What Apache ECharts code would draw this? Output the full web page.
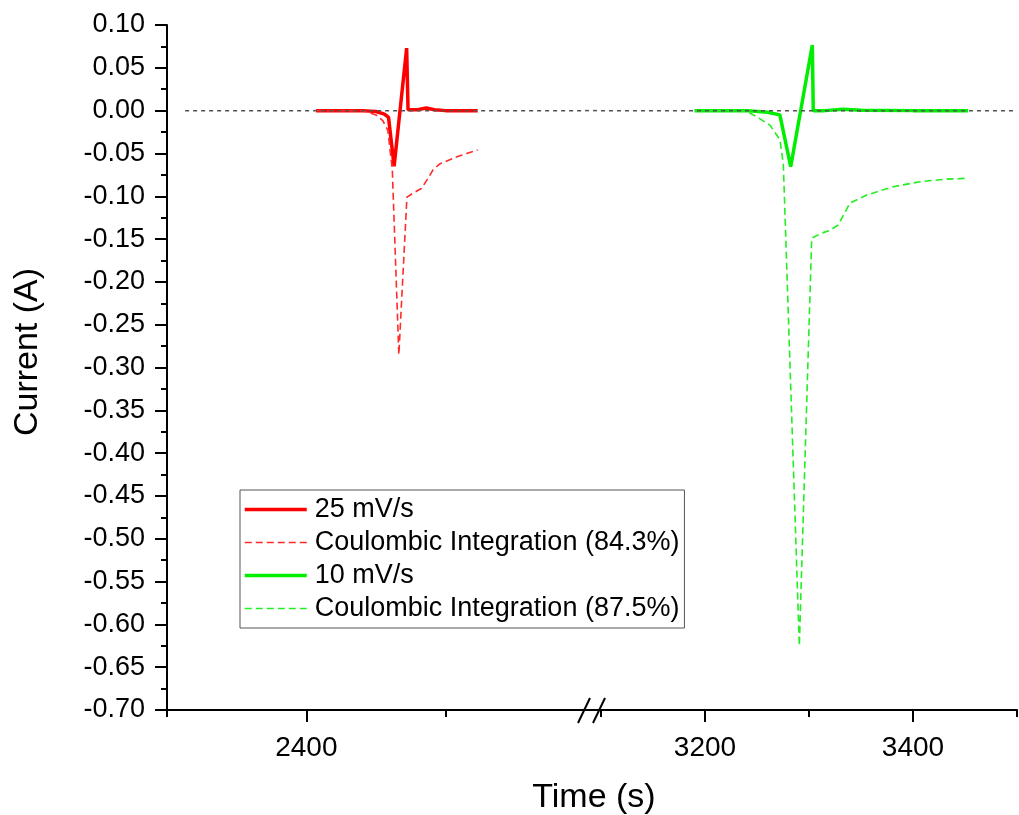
<!DOCTYPE html>
<html>
<head>
<meta charset="utf-8">
<script src="https://cdn.jsdelivr.net/npm/echarts@6/dist/echarts.min.js"></script>
<style>
  html, body { margin: 0; padding: 0; background: #fff; }
  #chart { width: 1019px; height: 815px; }
</style>
</head>
<body>
<div id="chart"></div>
<script>
// 25 mV/s scan: measured current and its coulombic integration
const redTime = [2407, 2420, 2440, 2450, 2456, 2459, 2463, 2472, 2473, 2480, 2486, 2492, 2500, 2523];
const redCurrent = [0, 0, 0, -0.001, -0.004, -0.008, -0.065, 0.073, 0.001, 0.001, 0.003, 0.001, 0, 0];
const redIntTime = [2407, 2440, 2450, 2455, 2458.5, 2461.7, 2466.4, 2472.2, 2476, 2482.5, 2487, 2491, 2496, 2508, 2515, 2523];
const redIntCurrent = [0, 0, -0.005, -0.012, -0.023, -0.069, -0.285, -0.101, -0.097, -0.091, -0.08, -0.069, -0.062, -0.054, -0.05, -0.046];

// 10 mV/s scan
const greenTime = [3190, 3220, 3240, 3260, 3272, 3282.4, 3303.2, 3304.1, 3315, 3333, 3350, 3400, 3453];
const greenCurrent = [0, 0, 0, -0.002, -0.005, -0.0655, 0.0766, 0, 0, 0.0015, 0.0005, 0, 0];
const greenIntTime = [3190, 3230, 3240, 3249.7, 3262.5, 3272, 3275.3, 3290.7, 3302.6, 3312.2, 3320, 3328, 3339.4, 3355.5, 3381, 3406.7, 3432.4, 3453];
const greenIntCurrent = [0, 0, -0.001, -0.007, -0.017, -0.034, -0.062, -0.625, -0.149, -0.143, -0.14, -0.1336, -0.108, -0.0986, -0.0889, -0.083, -0.08, -0.079];

const seriesNames = ['25 mV/s', 'Coulombic Integration (84.3%)', '10 mV/s', 'Coulombic Integration (87.5%)'];

// broken time axis: two segments
const leftRange = [2300, 2600];
const rightRange = [3100, 3500];
const leftMajorTicks = [2400];
const leftMinorTicks = [2300, 2500];
const rightMajorTicks = [3200, 3400];
const rightMinorTicks = [3100, 3300, 3500];
const currentRange = [-0.70, 0.10];
const zeroLineStart = 2313;

const FONT = '"Liberation Sans", Arial, sans-serif';
const pairs = (xs, ys) => xs.map((x, i) => [x, ys[i]]);

const SOLID_W = 3.5;
const DASH_W = 1.6;
const DASH = [7, 4];

function majorAxis(grid, range, ticks) {
  return {
    type: 'value', gridIndex: grid, position: 'bottom',
    min: range[0], max: range[1],
    axisLine: { show: true, onZero: false, lineStyle: { color: '#000', width: 2 } },
    axisTick: { show: true, inside: false, length: 12, customValues: ticks, lineStyle: { color: '#000', width: 2 } },
    axisLabel: { show: true, customValues: ticks, margin: 24, color: '#000', fontSize: 28, fontFamily: FONT, formatter: v => String(v) },
    splitLine: { show: false }
  };
}
function minorAxis(grid, range, ticks) {
  return {
    type: 'value', gridIndex: grid, position: 'bottom', offset: 0,
    min: range[0], max: range[1],
    axisLine: { show: false, onZero: false },
    axisTick: { show: true, inside: false, length: 7, customValues: ticks, lineStyle: { color: '#000', width: 2 } },
    axisLabel: { show: false },
    splitLine: { show: false }
  };
}

// dashed zero-current reference line in each segment
function zeroSeries(xIdx, from, to) {
  return {
    type: 'line', xAxisIndex: xIdx, yAxisIndex: xIdx, z: 5,
    data: [[from, 0], [to, 0]], symbol: 'none', showSymbol: false, silent: true,
    lineStyle: { color: '#555', width: 1.5, type: [4, 4] }
  };
}

const legendColors = ['#ff0000', '#ff2a2a', '#00ee00', '#22ee22'];
const legendSolid = [true, false, true, false];

const chart = echarts.init(document.getElementById('chart'), null, { renderer: 'canvas' });
chart.setOption({
  animation: false,
  backgroundColor: '#fff',
  grid: [
    { left: 167, top: 25, width: 418, height: 685 },
    { left: 601, top: 25, width: 416, height: 685 }
  ],
  xAxis: [
    majorAxis(0, leftRange, leftMajorTicks),
    majorAxis(1, rightRange, rightMajorTicks),
    minorAxis(0, leftRange, leftMinorTicks),
    minorAxis(1, rightRange, rightMinorTicks)
  ],
  yAxis: [
    {
      type: 'value', gridIndex: 0,
      min: currentRange[0], max: currentRange[1], interval: 0.05,
      axisLine: { show: true, onZero: false, lineStyle: { color: '#000', width: 2 } },
      axisTick: { show: true, inside: false, length: 12, lineStyle: { color: '#000', width: 2 } },
      minorTick: { show: true, splitNumber: 2, length: 6, lineStyle: { color: '#000', width: 2 } },
      axisLabel: { margin: 22, color: '#000', fontSize: 27, fontFamily: FONT, formatter: v => v.toFixed(2) },
      splitLine: { show: false }
    },
    {
      type: 'value', gridIndex: 1, show: false,
      min: currentRange[0], max: currentRange[1], interval: 0.05,
      splitLine: { show: false }
    }
  ],
  legend: {
    orient: 'vertical',
    left: 240, top: 490,
    padding: [6, 5, 6, 3],
    backgroundColor: '#fff',
    borderColor: '#555', borderWidth: 1,
    itemWidth: 62, itemHeight: 14, itemGap: 6,
    itemStyle: { opacity: 0 },
    textStyle: { color: '#000', fontSize: 27, fontFamily: FONT, lineHeight: 27, padding: [0, 0, 0, 3] },
    data: seriesNames.map((name, i) => ({
      name,
      lineStyle: legendSolid[i]
        ? { color: legendColors[i], width: SOLID_W, type: 'solid' }
        : { color: legendColors[i], width: DASH_W, type: DASH }
    }))
  },
  series: [
    {
      name: seriesNames[0], type: 'line', xAxisIndex: 0, yAxisIndex: 0,
      data: pairs(redTime, redCurrent), symbol: 'none', showSymbol: false,
      lineStyle: { color: legendColors[0], width: SOLID_W }, itemStyle: { color: legendColors[0] }
    },
    {
      name: seriesNames[1], type: 'line', xAxisIndex: 0, yAxisIndex: 0,
      data: pairs(redIntTime, redIntCurrent), symbol: 'none', showSymbol: false,
      lineStyle: { color: legendColors[1], width: DASH_W, type: DASH }, itemStyle: { color: legendColors[1] }
    },
    {
      name: seriesNames[2], type: 'line', xAxisIndex: 1, yAxisIndex: 1,
      data: pairs(greenTime, greenCurrent), symbol: 'none', showSymbol: false,
      lineStyle: { color: legendColors[2], width: SOLID_W }, itemStyle: { color: legendColors[2] }
    },
    {
      name: seriesNames[3], type: 'line', xAxisIndex: 1, yAxisIndex: 1,
      data: pairs(greenIntTime, greenIntCurrent), symbol: 'none', showSymbol: false,
      lineStyle: { color: legendColors[3], width: DASH_W, type: DASH }, itemStyle: { color: legendColors[3] }
    },
    zeroSeries(0, zeroLineStart, leftRange[1]),
    zeroSeries(1, rightRange[0], rightRange[1])
  ],
  graphic: [
    // axis continuation and break marks between the two time segments
    { type: 'line', shape: { x1: 585, y1: 710, x2: 601, y2: 710 }, style: { stroke: '#000', lineWidth: 2 }, z: 20 },
    { type: 'line', shape: { x1: 578, y1: 723, x2: 590, y2: 698 }, style: { stroke: '#000', lineWidth: 2 }, z: 20 },
    { type: 'line', shape: { x1: 593, y1: 723, x2: 605, y2: 698 }, style: { stroke: '#000', lineWidth: 2 }, z: 20 },
    { type: 'line', shape: { x1: 585, y1: 110.6, x2: 601, y2: 110.6 }, style: { stroke: '#555', lineWidth: 1.5, lineDash: [4, 4] }, z: 20 },
    {
      type: 'text', x: 594, y: 798,
      style: { text: 'Time (s)', fill: '#000', font: '34px ' + FONT, align: 'center', verticalAlign: 'middle' }
    },
    {
      type: 'text', x: 28, y: 352, rotation: Math.PI / 2,
      style: { text: 'Current (A)', fill: '#000', font: '34px ' + FONT, align: 'center', verticalAlign: 'middle' }
    }
  ]
});
</script>
</body>
</html>
